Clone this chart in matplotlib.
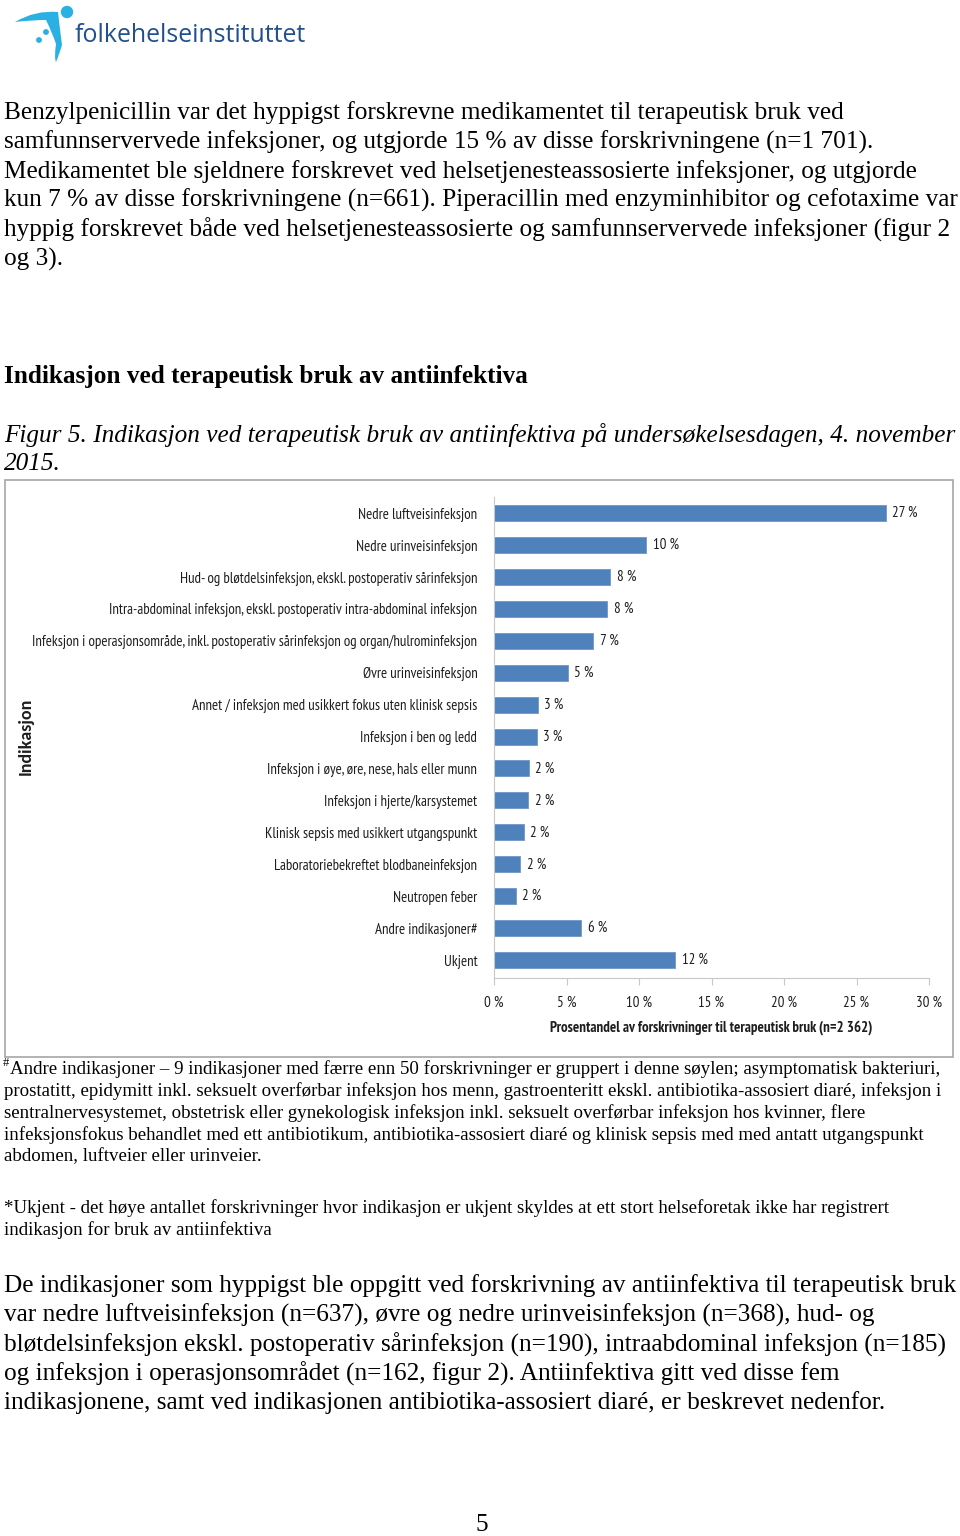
import matplotlib
matplotlib.use('Agg')
import matplotlib.pyplot as plt
from matplotlib import font_manager
from matplotlib.patches import Rectangle, Circle, PathPatch
from matplotlib.path import Path

W, H = 960, 1536

# --- data -------------------------------------------------------------
categories = [
    'Nedre luftveisinfeksjon',
    'Nedre urinveisinfeksjon',
    'Hud- og bløtdelsinfeksjon, ekskl. postoperativ sårinfeksjon',
    'Intra-abdominal infeksjon, ekskl. postoperativ intra-abdominal infeksjon',
    'Infeksjon i operasjonsområde, inkl. postoperativ sårinfeksjon og organ/hulrominfeksjon',
    'Øvre urinveisinfeksjon',
    'Annet / infeksjon med usikkert fokus uten klinisk sepsis',
    'Infeksjon i ben og ledd',
    'Infeksjon i øye, øre, nese, hals eller munn',
    'Infeksjon i hjerte/karsystemet',
    'Klinisk sepsis med usikkert utgangspunkt',
    'Laboratoriebekreftet blodbaneinfeksjon',
    'Neutropen feber',
    'Andre indikasjoner#',
    'Ukjent',
]
values = [27.0, 10.5, 8.0, 7.8, 6.85, 5.1, 3.0, 2.95, 2.4, 2.35, 2.05, 1.8, 1.5, 6.0, 12.5]
value_labels = ['27 %', '10 %', '8 %', '8 %', '7 %', '5 %', '3 %', '3 %',
                '2 %', '2 %', '2 %', '2 %', '2 %', '6 %', '12 %']
x_ticks = [0, 5, 10, 15, 20, 25, 30]

body_top = [
    'Benzylpenicillin var det hyppigst forskrevne medikamentet til terapeutisk bruk ved',
    'samfunnservervede infeksjoner, og utgjorde 15 % av disse forskrivningene (n=1 701).',
    'Medikamentet ble sjeldnere forskrevet ved helsetjenesteassosierte infeksjoner, og utgjorde',
    'kun 7 % av disse forskrivningene (n=661). Piperacillin med enzyminhibitor og cefotaxime var',
    'hyppig forskrevet både ved helsetjenesteassosierte og samfunnservervede infeksjoner (figur 2',
    'og 3).',
]
heading = 'Indikasjon ved terapeutisk bruk av antiinfektiva'
caption = ['Figur 5. Indikasjon ved terapeutisk bruk av antiinfektiva på undersøkelsesdagen, 4. november',
           '2015.']
note_andre = [
    'Andre indikasjoner – 9 indikasjoner med færre enn 50 forskrivninger er gruppert i denne søylen; asymptomatisk bakteriuri,',
    'prostatitt, epidymitt inkl. seksuelt overførbar infeksjon hos menn, gastroenteritt ekskl. antibiotika-assosiert diaré, infeksjon i',
    'sentralnervesystemet, obstetrisk eller gynekologisk infeksjon inkl. seksuelt overførbar infeksjon hos kvinner, flere',
    'infeksjonsfokus behandlet med ett antibiotikum, antibiotika-assosiert diaré og klinisk sepsis med med antatt utgangspunkt',
    'abdomen, luftveier eller urinveier.',
]
note_ukjent = [
    '*Ukjent - det høye antallet forskrivninger hvor indikasjon er ukjent skyldes at ett stort helseforetak ikke har registrert',
    'indikasjon for bruk av antiinfektiva',
]
body_bottom = [
    'De indikasjoner som hyppigst ble oppgitt ved forskrivning av antiinfektiva til terapeutisk bruk',
    'var nedre luftveisinfeksjon (n=637), øvre og nedre urinveisinfeksjon (n=368), hud- og',
    'bløtdelsinfeksjon ekskl. postoperativ sårinfeksjon (n=190), intraabdominal infeksjon (n=185)',
    'og infeksjon i operasjonsområdet (n=162, figur 2). Antiinfektiva gitt ved disse fem',
    'indikasjonene, samt ved indikasjonen antibiotika-assosiert diaré, er beskrevet nedenfor.',
]

# --- fonts --------------------------------------------------------------
installed = {f.name for f in font_manager.fontManager.ttflist}


def pick(*names):
    for n in names:
        if n in installed:
            return n
    return 'DejaVu Sans'


serif = pick('Liberation Serif', 'DejaVu Serif')
narrow = pick('PT Sans Narrow', 'Pragati Narrow', 'Sofia Sans Condensed', 'Roboto Condensed',
              'Archivo Narrow', 'Roboto')
calibri = pick('Carlito', 'Open Sans')

BAR_COLOR = '#4F81BD'
TXT = '#1e1e1e'


def fx(x):
    return x / W


def fy(y):
    return 1 - y / H


fig = plt.figure(figsize=(W / 100, H / 100), dpi=100)
fig.patch.set_facecolor('white')

# --- logo -------------------------------------------------------------
lg = fig.add_axes([0, 1 - 70 / H, 320 / W, 70 / H])
lg.set_xlim(0, 320)
lg.set_ylim(70, 0)
lg.axis('off')
swoosh = Path([(15, 22), (35, 10), (58, 12), (60, 30), (62, 45), (58, 58), (56, 62),
               (54, 58), (56, 44), (52, 32), (46, 20), (32, 20), (15, 22)],
              [Path.MOVETO, Path.CURVE3, Path.CURVE3, Path.CURVE3, Path.CURVE3, Path.CURVE3,
               Path.LINETO, Path.CURVE3, Path.CURVE3, Path.CURVE3, Path.CURVE3, Path.CURVE3,
               Path.CURVE3])
lg.add_patch(PathPatch(swoosh, facecolor='#2bb0e4', edgecolor='none'))
lg.add_patch(Circle((67, 12), 5.5, color='#2bb0e4'))
lg.add_patch(Circle((46, 32), 2.2, color='#2bb0e4'))
lg.add_patch(Circle((39, 40), 2.2, color='#2bb0e4'))
lg.text(75, 35, 'folkehelseinstituttet', fontsize=17.9, color='#22508f',
        family='Open Sans', va='center', ha='left')

# --- document text ---------------------------------------------------
BODY = 18.2
NOTE = 13.6
for i, line in enumerate(body_top):
    fig.text(fx(4), fy(113 + 29.2 * i), line, fontsize=BODY, family=serif, va='center')
fig.text(fx(4), fy(376), heading, fontsize=BODY, family=serif, weight='bold', va='center')
for i, line in enumerate(caption):
    fig.text(fx(4), fy(435 + 29 * i), line, fontsize=BODY, family=serif, style='italic', va='center')

fig.text(fx(3), fy(1063), '#', fontsize=9, family=serif, va='center')
for i, line in enumerate(note_andre):
    x0 = 10 if i == 0 else 4
    fig.text(fx(x0), fy(1069 + 22 * i), line, fontsize=NOTE, family=serif, va='center')
for i, line in enumerate(note_ukjent):
    fig.text(fx(4), fy(1208 + 22 * i), line, fontsize=NOTE, family=serif, va='center')
for i, line in enumerate(body_bottom):
    fig.text(fx(4), fy(1286 + 29.2 * i), line, fontsize=BODY, family=serif, va='center')
fig.text(fx(482), fy(1525), '5', fontsize=BODY, family=serif, ha='center', va='center')

# chart frame
fig.patches.append(Rectangle((fx(5), fy(1057)), fx(953) - fx(5), fy(480) - fy(1057),
                             transform=fig.transFigure, fill=False,
                             edgecolor='#a6a6a6', linewidth=1.2))

# --- chart ------------------------------------------------------------
ax = fig.add_axes([fx(494), fy(978), fx(929) - fx(494), fy(497) - fy(978)])
pos = list(range(len(categories)))
ax.barh(pos, values, height=0.5, color=BAR_COLOR, edgecolor='#6f97c8', linewidth=0.6)
ax.set_ylim(len(categories) - 0.44, -0.5)
ax.set_xlim(0, 30)

vals = []
for p, v, lab in zip(pos, values, value_labels):
    vals.append(ax.text(v + 0.45, p, lab, va='center', ha='left', color=TXT, family=narrow))

ax.set_yticks(pos)
ax.set_yticklabels(categories, color=TXT, family=narrow)
ax.set_xticks(x_ticks)
ax.set_xticklabels([f'{t} %' for t in x_ticks], color=TXT, family=narrow)
ax.tick_params(axis='y', length=0, pad=12)
ax.tick_params(axis='x', length=5, color='#c8c8c8', direction='out', pad=8)
for s in ['top', 'right']:
    ax.spines[s].set_visible(False)
ax.spines['left'].set_color('#c8c8c8')
ax.spines['bottom'].set_color('#c8c8c8')
xl = ax.set_xlabel('Prosentandel av forskrivninger til terapeutisk bruk (n=2 362)',
                   weight='bold', color=TXT, labelpad=7, family=narrow)
fig.text(fx(26), fy(736), 'Indikasjon', rotation=90, fontsize=13, family=calibri,
         weight='bold', color=TXT, ha='center', va='center')

# size chart text so the longest category label spans the same width as in the original
labels = ax.get_yticklabels()
for t in labels:
    t.set_fontsize(10)
fig.canvas.draw()
longest = max(t.get_window_extent().width for t in labels)
size = 10 * 446 / longest
for t in labels + ax.get_xticklabels() + vals:
    t.set_fontsize(size)
xl.set_fontsize(size)

fig.savefig('out.png', dpi=100, facecolor='white')
